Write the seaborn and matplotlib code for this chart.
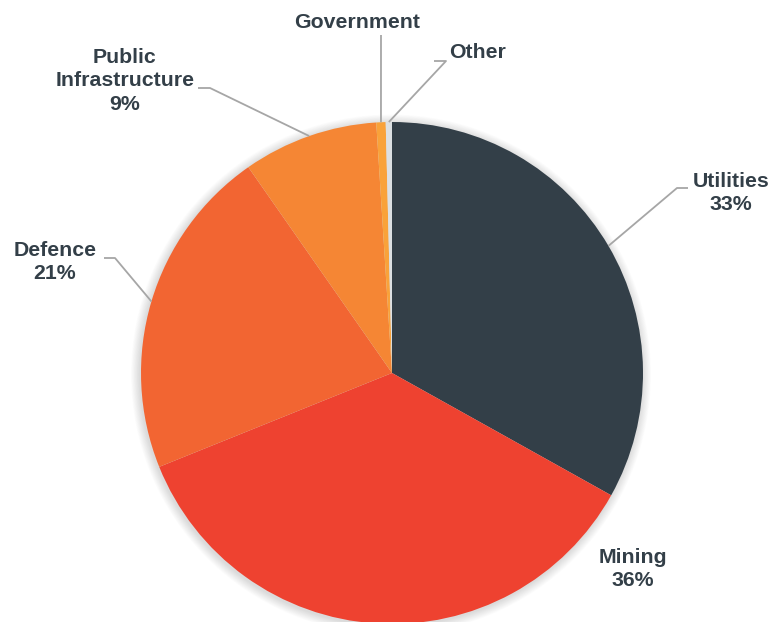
import matplotlib
matplotlib.use("Agg")
import matplotlib.pyplot as plt
import seaborn as sns
import numpy as np
from matplotlib.patches import Circle

sns.set_theme(style="white")
plt.rcParams['font.family'] = ['Liberation Sans', 'DejaVu Sans']

categories = ["Utilities", "Mining", "Defence", "Public\nInfrastructure", "Government", "Other"]
values = [33.1, 35.8, 21.4, 8.7, 0.6, 0.4]
pct_labels = ["33%", "36%", "21%", "9%", "", ""]
colors = ["#333F48", "#EE4230", "#F26532", "#F58634", "#F9A23A", "#DCE0E3"]

W, H = 774, 622
R = 251.0
cx, cy = 392.0, 373.0

fig = plt.figure(figsize=(W / 100, H / 100), dpi=100)
ax = fig.add_axes([0, 0, 1, 1])

# soft shadow
for i in range(12):
    r = 1.0 + 0.003 * (i + 1)
    ax.add_patch(Circle((-0.004, -0.006), r, color="black", alpha=0.012, lw=0, zorder=0))

wedges, _ = ax.pie(values, colors=colors, startangle=90, counterclock=False,
                   radius=1.0, center=(0, 0), wedgeprops=dict(linewidth=0),
                   frame=True)
ax.set_xlim(-cx / R, (W - cx) / R)
ax.set_ylim(-(H - cy) / R, cy / R)
ax.set_aspect("equal")
ax.axis("off")

def px(x, y):
    return ((x - cx) / R, (cy - y) / R)

text_color = "#333F48"
line_color = "#A6A6A6"
fs = 15.3

specs = {
    0: dict(xy=(731, 193), line=[(688, 188), (677, 188)]),
    1: dict(xy=(633, 569), line=None),
    2: dict(xy=(55, 262), line=[(104, 258), (115, 258)]),
    3: dict(xy=(125, 81), line=[(198, 88), (210, 88)]),
    4: dict(xy=(357, 22), line=[(381, 35)]),
    5: dict(xy=(478, 53), line=[(434, 61), (446, 61)]),
}

for i, w in enumerate(wedges):
    theta = np.deg2rad((w.theta1 + w.theta2) / 2)
    ex, ey = np.cos(theta), np.sin(theta)
    s = specs[i]
    label = categories[i] if not pct_labels[i] else categories[i] + "\n" + pct_labels[i]
    tx, ty = px(*s["xy"])
    ax.text(tx, ty, label, ha="center", va="center", fontsize=fs, fontweight="bold",
            color=text_color, linespacing=1.32, multialignment="center")
    if s["line"]:
        pts = [px(*p) for p in s["line"]] + [(ex, ey)]
        xs, ys = zip(*pts)
        ax.plot(xs, ys, color=line_color, lw=1.3, solid_capstyle="butt", zorder=1)

fig.savefig("out.png", dpi=100, facecolor="white")
